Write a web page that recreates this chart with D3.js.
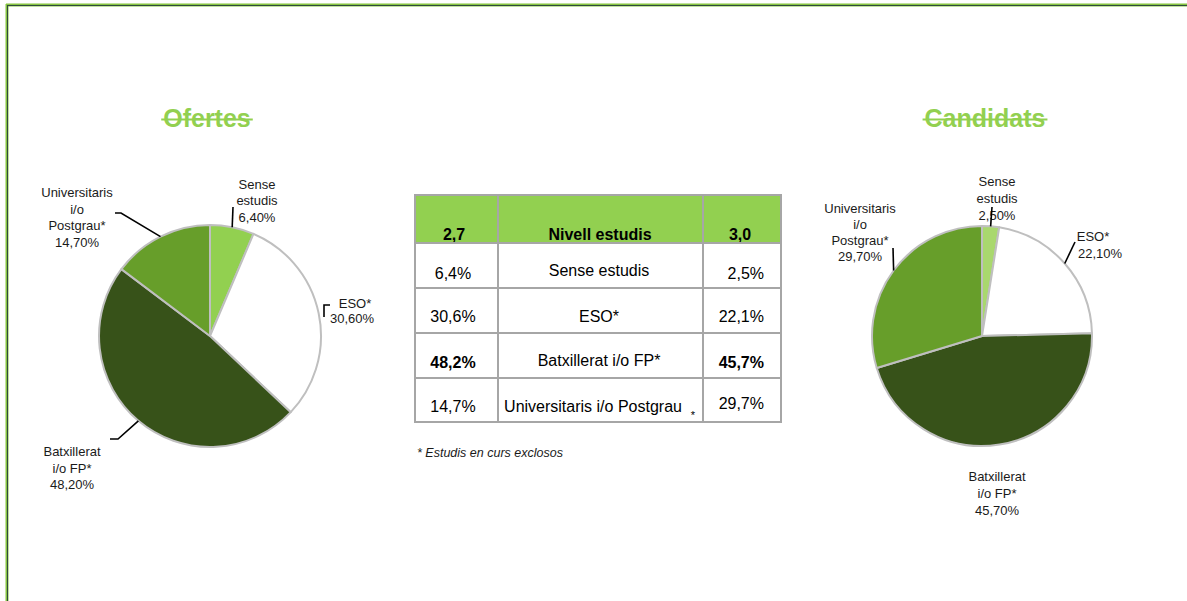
<!DOCTYPE html>
<html>
<head>
<meta charset="utf-8">
<script src="https://cdn.jsdelivr.net/npm/d3@7"></script>
<style>
  html, body { margin: 0; padding: 0; background: #fff; }
  svg { display: block; font-family: "Liberation Sans", Arial, sans-serif; }
</style>
</head>
<body>
<svg id="chart" width="1187" height="601"></svg>
<script>
// Education level of job offers vs. candidates
const categories = ["Sense estudis", "ESO*", "Batxillerat i/o FP*", "Universitaris i/o Postgrau"];
const pieLabels = [["Sense", "estudis"], ["ESO*"], ["Batxillerat", "i/o FP*"], ["Universitaris", "i/o", "Postgrau*"]];
const ofertes = [6.4, 30.6, 48.2, 14.7];
const candidats = [2.5, 22.1, 45.7, 29.7];
const headerValues = ["2,7", "3,0"];
const headerTitle = "Nivell estudis";
const boldRow = 2;
const footnote = "* Estudis en curs exclosos";

const svg = d3.select("#chart");
const comma = f => v => d3.format(f)(v).replace(".", ",");
const fmtPie = comma(".2f");
const fmtTable = comma(".1f");

// frame lines along top and left edges
const frame = svg.append("g");
frame.append("line").attr("x1", 6).attr("x2", 1187).attr("y1", 5).attr("y2", 5)
  .attr("stroke", "#86c440").attr("stroke-width", 3);
frame.append("line").attr("x1", 7).attr("x2", 7).attr("y1", 4).attr("y2", 601)
  .attr("stroke", "#86c440").attr("stroke-width", 3);
frame.append("line").attr("x1", 7).attr("x2", 1187).attr("y1", 5.5).attr("y2", 5.5)
  .attr("stroke", "#2f4b3c").attr("stroke-width", 1);
frame.append("line").attr("x1", 7.5).attr("x2", 7.5).attr("y1", 5).attr("y2", 601)
  .attr("stroke", "#2f4b3c").attr("stroke-width", 1);

function title(text, cx) {
  const t = svg.append("text").attr("x", cx).attr("y", 127).attr("text-anchor", "middle")
    .attr("font-size", 25).attr("font-weight", "bold").attr("fill", "#92d050").text(text);
  const w = t.node().getComputedTextLength();
  svg.append("line").attr("x1", cx - w / 2 - 2).attr("x2", cx + w / 2 + 2)
    .attr("y1", 119.5).attr("y2", 119.5).attr("stroke", "#92d050").attr("stroke-width", 2);
}
title("Ofertes", 207);
title("Candidats", 985);

// pie layout per chart: label centre/first baseline and leader bend points, relative to pie centre
function drawPie(values, cx, cy, r, colors, labelLayout) {
  const g = svg.append("g").attr("transform", `translate(${cx},${cy})`);
  const pie = d3.pie().sort(null).value(d => d);
  const arcs = pie(values);
  const arc = d3.arc().innerRadius(0).outerRadius(r);
  g.selectAll("path.slice").data(arcs).join("path")
    .attr("class", "slice")
    .attr("d", arc)
    .attr("fill", (d, i) => colors[i])
    .attr("stroke", "#bfbfbf").attr("stroke-width", 2).attr("stroke-linejoin", "round");

  arcs.forEach((a, i) => {
    const L = labelLayout[i];
    const lines = pieLabels[i].concat([fmtPie(values[i]) + "%"]);
    const t = g.append("text").attr("text-anchor", "middle").attr("font-size", 13).attr("fill", "#1a1a1a");
    lines.forEach((s, k) => {
      t.append("tspan").attr("x", (L.lineDx && L.lineDx[k]) || L.x).attr("y", L.y + k * L.lh).text(s);
    });
    if (L.leader) {
      const mid = (a.startAngle + a.endAngle) / 2;
      const edge = [Math.sin(mid) * r, -Math.cos(mid) * r];
      const pts = L.leader.slice();
      if (L.toEdge !== false) pts.push(edge);
      g.append("path").attr("d", d3.line()(pts))
        .attr("fill", "none").attr("stroke", "#000").attr("stroke-width", 1.6);
    }
  });
}

drawPie(ofertes, 210, 336, 111, ["#92d050", "#ffffff", "#375219", "#679e2a"], [
  { x: 47, y: -147.5, lh: 16.5, leader: [[23, -129]] },
  { x: 143, y: -28.5, lh: 15, lineDx: [145, 142], leader: [[120, -31], [114, -31], [114, -19]], toEdge: false },
  { x: -138, y: 120, lh: 16.5, leader: [[-100, 103], [-92, 103]] },
  { x: -133, y: -139, lh: 16.5, leader: [[-95, -123], [-89, -123]] }
]);

drawPie(candidats, 982, 336, 110, ["#a9d86e", "#ffffff", "#375219", "#679e2a"], [
  { x: 15, y: -150, lh: 16.8, leader: [[10, -129]] },
  { x: 115, y: -95, lh: 16.5, lineDx: [111, 118], leader: [[93, -94]] },
  { x: 15, y: 145, lh: 17 },
  { x: -122, y: -123.5, lh: 16.3, leader: [[-89, -88]] }
]);

// summary table
const colX = [415, 498, 703, 781];
const rowY = [195, 243, 288, 333, 378, 422];
const tg = svg.append("g");
tg.append("rect").attr("x", colX[0]).attr("y", rowY[0])
  .attr("width", colX[3] - colX[0]).attr("height", rowY[1] - rowY[0]).attr("fill", "#92d050");

const rowBase = [[278.5, 275.5, 278.5], [321.5, 321.5, 321.5], [368, 365.5, 368], [411.5, 412, 408.5]];
categories.forEach((c, i) => {
  const bold = i === boldRow ? "bold" : "normal";
  tg.append("text").attr("x", 453).attr("y", rowBase[i][0]).attr("text-anchor", "middle")
    .attr("font-size", 16).attr("font-weight", bold).text(fmtTable(ofertes[i]) + "%");
  const isLast = i === categories.length - 1;
  const name = isLast ? c.replace("*", "") : c;
  tg.append("text").attr("x", isLast ? 593 : 599).attr("y", rowBase[i][1]).attr("text-anchor", "middle")
    .attr("font-size", 16).text(name);
  if (isLast) {
    tg.append("text").attr("x", 693).attr("y", 419).attr("text-anchor", "middle")
      .attr("font-size", 11).text("*");
  }
  tg.append("text").attr("x", 764).attr("y", rowBase[i][2]).attr("text-anchor", "end")
    .attr("font-size", 16).attr("font-weight", bold).text(fmtTable(candidats[i]) + "%");
});
tg.append("text").attr("x", 454).attr("y", 240).attr("text-anchor", "middle")
  .attr("font-size", 16).attr("font-weight", "bold").text(headerValues[0]);
tg.append("text").attr("x", 600).attr("y", 240).attr("text-anchor", "middle")
  .attr("font-size", 16).attr("font-weight", "bold").text(headerTitle);
tg.append("text").attr("x", 740).attr("y", 240).attr("text-anchor", "middle")
  .attr("font-size", 16).attr("font-weight", "bold").text(headerValues[1]);

rowY.forEach(y => tg.append("line").attr("x1", colX[0] - 1).attr("x2", colX[3] + 1)
  .attr("y1", y).attr("y2", y).attr("stroke", "#a6a6a6").attr("stroke-width", 2));
colX.forEach(x => tg.append("line").attr("x1", x).attr("x2", x)
  .attr("y1", rowY[0]).attr("y2", rowY[rowY.length - 1]).attr("stroke", "#a6a6a6").attr("stroke-width", 2));

svg.append("text").attr("x", 417).attr("y", 457).attr("font-size", 12.5)
  .attr("font-style", "italic").attr("fill", "#1a1a1a").text(footnote);
</script>
</body>
</html>
